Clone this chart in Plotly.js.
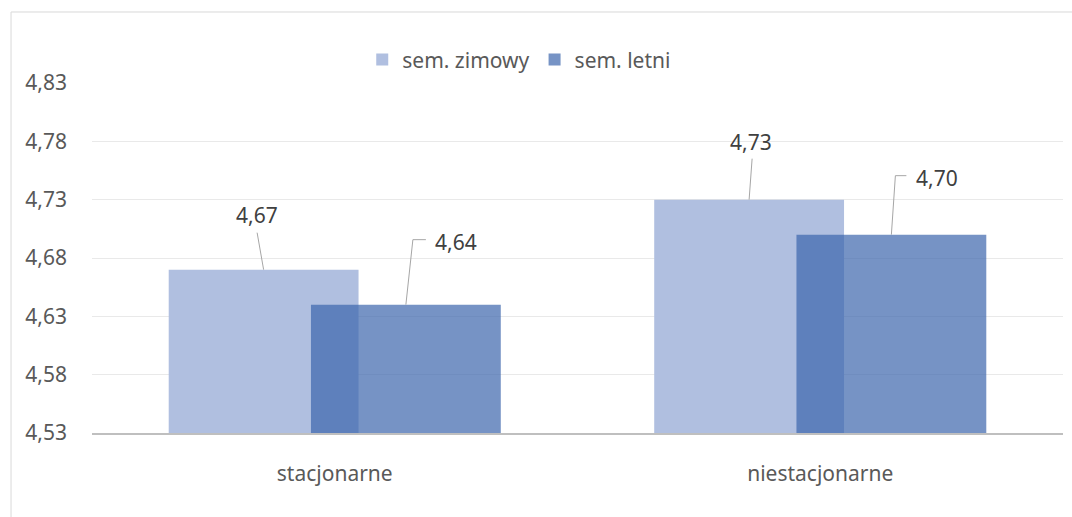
<!DOCTYPE html>
<html>
<head>
<meta charset="utf-8">
<script src="https://cdn.plot.ly/plotly-3.0.1.min.js"></script>
<style>html,body{margin:0;padding:0;background:#fff;}#chart{width:1072px;height:517px;}</style>
</head>
<body>
<div id="chart"></div>
<script>
const categories = ['stacjonarne', 'niestacjonarne'];
const seriesNames = ['sem. zimowy', 'sem. letni'];
const zimowy = [4.67, 4.73];
const letni = [4.64, 4.70];
const yTickVals = [4.53, 4.58, 4.63, 4.68, 4.73, 4.78, 4.83];
const yTickText = ['4,53', '4,58', '4,63', '4,68', '4,73', '4,78', '4,83'];

const FONT = 'Noto Sans, sans-serif';
const FS = 21;
const barW = 0.391;
const offs = [-0.342, -0.049];
const centers = offs.map(o => o + barW / 2);

const traces = [
  {type: 'bar', name: seriesNames[0], x: [0, 1], y: zimowy, width: barW, offset: offs[0],
   marker: {color: 'rgb(176,191,224)'}, hoverinfo: 'x+y'},
  {type: 'bar', name: seriesNames[1], x: [0, 1], y: letni, width: barW, offset: offs[1],
   marker: {color: 'rgba(60,101,172,0.7)'}, hoverinfo: 'x+y'}
];

// label leader geometry (pixels relative to bar top)
const labelDefs = [
  {s: 0, i: 0, line: [[0, 0], [-6.5, 37]], tx: -6.5, ty: 55, xa: 'center'},
  {s: 1, i: 0, line: [[0, 0], [7, 65], [20, 65]], tx: 27, ty: 63, xa: 'left'},
  {s: 0, i: 1, line: [[0, 0], [3, 41]], tx: 2, ty: 58, xa: 'center'},
  {s: 1, i: 1, line: [[0, 0], [4, 59], [15, 59]], tx: 23, ty: 57, xa: 'left'}
];
const seriesVals = [zimowy, letni];

const shapes = [
  {type: 'path', xref: 'paper', yref: 'paper',
   path: 'M-0.0834,-0.4 L-0.0834,1.2029 L1.0093,1.2029', line: {color: '#d9d9d9', width: 1}}
];
const annotations = [];
labelDefs.forEach(d => {
  const xa = d.i + centers[d.s];
  const ya = seriesVals[d.s][d.i];
  for (let k = 0; k < d.line.length - 1; k++) {
    shapes.push({type: 'line', xref: 'x', yref: 'y', xsizemode: 'pixel', ysizemode: 'pixel',
      xanchor: xa, yanchor: ya,
      x0: d.line[k][0], y0: d.line[k][1], x1: d.line[k + 1][0], y1: d.line[k + 1][1],
      line: {color: '#a6a6a6', width: 1}});
  }
  annotations.push({xref: 'x', yref: 'y', x: xa, y: ya, xshift: d.tx, yshift: d.ty,
    xanchor: d.xa, yanchor: 'middle', showarrow: false,
    text: ya.toFixed(2).replace('.', ','),
    font: {family: FONT, size: FS, color: '#404040'}});
});

const layout = {
  width: 1072, height: 517,
  margin: {l: 92, r: 9, t: 83, b: 84},
  paper_bgcolor: '#fff', plot_bgcolor: '#fff',
  barmode: 'overlay',
  showlegend: true,
  legend: {orientation: 'h', x: 0.44, xanchor: 'center', y: 1.066, yanchor: 'middle',
    font: {family: FONT, size: FS, color: '#595959'}, itemclick: false, traceorder: 'normal'},
  xaxis: {type: 'linear', range: [-0.5, 1.5], tickvals: [0, 1], ticktext: categories,
    showgrid: false, zeroline: false, showline: true, linecolor: '#bfbfbf', linewidth: 2,
    ticks: '', ticklabelstandoff: 21,
    tickfont: {family: FONT, size: FS, color: '#595959'}},
  yaxis: {range: [4.53, 4.83], tickvals: yTickVals, ticktext: yTickText,
    showgrid: true, gridcolor: '#e9e9e9', gridwidth: 1, zeroline: false, showline: false,
    ticks: '', ticklabelstandoff: 24,
    tickfont: {family: FONT, size: FS, color: '#595959'}},
  shapes: shapes,
  annotations: annotations
};

Plotly.newPlot('chart', traces, layout, {displayModeBar: false});
</script>
</body>
</html>
